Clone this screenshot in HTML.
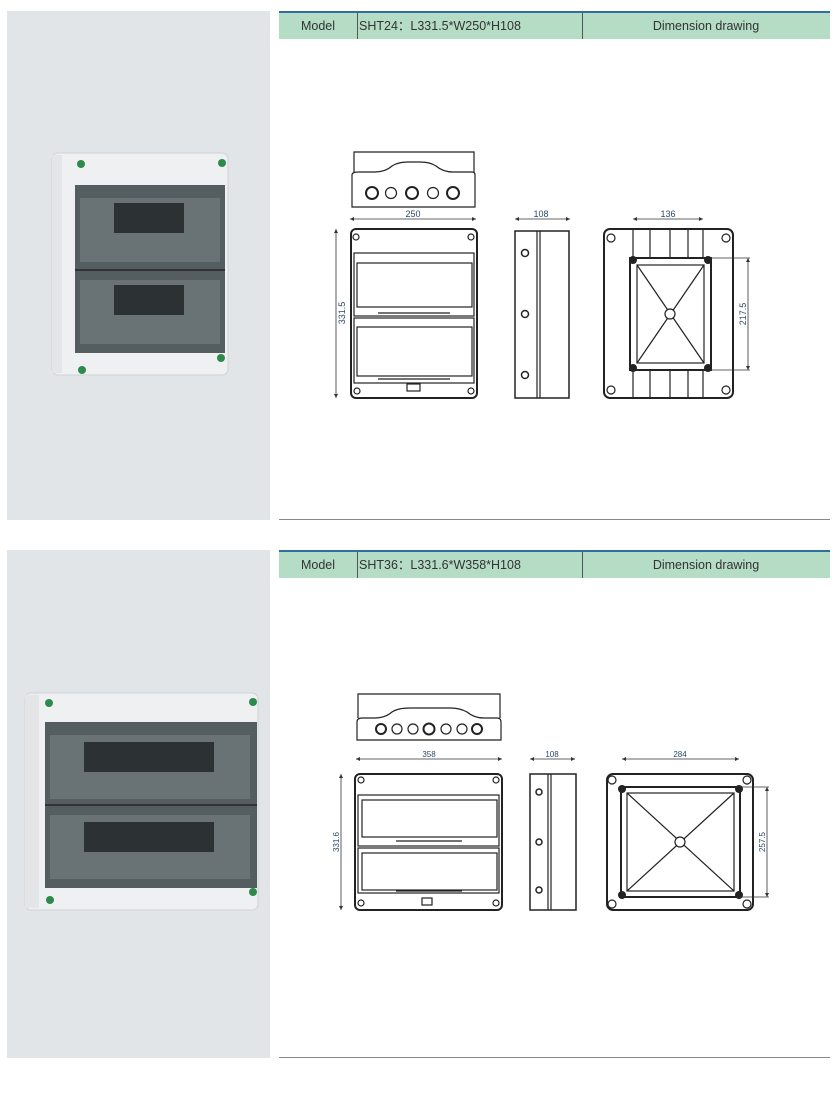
<!DOCTYPE html>
<html><head><meta charset="utf-8"><style>
html,body{margin:0;padding:0;background:#fff;}
svg{display:block;font-family:"Liberation Sans",sans-serif;}
</style></head><body>
<svg width="836" height="1097" viewBox="0 0 836 1097" xmlns="http://www.w3.org/2000/svg">
<defs>
<marker id="a" viewBox="0 0 6 6" refX="6" refY="3" markerWidth="5" markerHeight="5" orient="auto-start-reverse"><path d="M0,0 L6,3 L0,6 z" fill="#333"/></marker>
</defs>
<rect x="7" y="11" width="263" height="509" fill="#e2e5e7"/>
<rect x="7" y="550" width="263" height="508" fill="#e2e5e7"/>

<g>
<rect x="279" y="11" width="551" height="2" fill="#2f6e9e"/>
<rect x="279" y="13" width="551" height="26" fill="#b5dcc4"/>
<line x1="357.5" y1="13" x2="357.5" y2="39" stroke="#555"/>
<line x1="582.5" y1="13" x2="582.5" y2="39" stroke="#555"/>
<text x="318" y="30" font-size="12.5" text-anchor="middle" fill="#333">Model</text>
<text x="359" y="30" font-size="12.5" fill="#333">SHT24：L331.5*W250*H108</text>
<text x="706" y="30" font-size="12.5" text-anchor="middle" fill="#333">Dimension drawing</text>
<line x1="279" y1="519.5" x2="830" y2="519.5" stroke="#888"/>
</g>
<g>
<rect x="279" y="550" width="551" height="2" fill="#2f6e9e"/>
<rect x="279" y="552" width="551" height="26" fill="#b5dcc4"/>
<line x1="357.5" y1="552" x2="357.5" y2="578" stroke="#555"/>
<line x1="582.5" y1="552" x2="582.5" y2="578" stroke="#555"/>
<text x="318" y="569" font-size="12.5" text-anchor="middle" fill="#333">Model</text>
<text x="359" y="569" font-size="12.5" fill="#333">SHT36：L331.6*W358*H108</text>
<text x="706" y="569" font-size="12.5" text-anchor="middle" fill="#333">Dimension drawing</text>
<line x1="279" y1="1057.5" x2="830" y2="1057.5" stroke="#888"/>
</g>

<!-- photo 1 -->
<g>
<rect x="52" y="153" width="176" height="222" rx="6" fill="#eef0f1" stroke="#cfd3d6"/>
<rect x="52" y="155" width="10" height="218" fill="#e3e5e7"/>
<rect x="75" y="185" width="150" height="168" fill="#545d60"/>
<rect x="80" y="198" width="140" height="64" fill="#697376"/>
<rect x="114" y="203" width="70" height="30" fill="#2c3234"/>
<rect x="80" y="280" width="140" height="64" fill="#697376"/>
<rect x="114" y="285" width="70" height="30" fill="#2c3234"/>
<line x1="75" y1="270" x2="225" y2="270" stroke="#333" stroke-width="2"/>
<circle cx="81" cy="164" r="4" fill="#2e8a4a"/><circle cx="222" cy="163" r="4" fill="#2e8a4a"/>
<circle cx="82" cy="370" r="4" fill="#2e8a4a"/><circle cx="221" cy="358" r="4" fill="#2e8a4a"/>
</g>
<!-- photo 2 -->
<g>
<rect x="25" y="693" width="233" height="217" rx="6" fill="#eef0f1" stroke="#cfd3d6"/>
<rect x="25" y="695" width="14" height="213" fill="#e3e5e7"/>
<rect x="45" y="722" width="212" height="166" fill="#545d60"/>
<rect x="50" y="735" width="200" height="64" fill="#697376"/>
<rect x="84" y="742" width="130" height="30" fill="#2c3234"/>
<rect x="50" y="815" width="200" height="64" fill="#697376"/>
<rect x="84" y="822" width="130" height="30" fill="#2c3234"/>
<line x1="45" y1="805" x2="257" y2="805" stroke="#333" stroke-width="2"/>
<circle cx="49" cy="703" r="4" fill="#2e8a4a"/><circle cx="253" cy="702" r="4" fill="#2e8a4a"/>
<circle cx="50" cy="900" r="4" fill="#2e8a4a"/><circle cx="253" cy="892" r="4" fill="#2e8a4a"/>
</g>

<g fill="none" stroke="#222" stroke-width="1.2">
<path d="M352,207 V175 Q352,172 358,172 H375 Q385,172 392,166 Q398,162 408,162 H420 Q430,162 436,166 Q443,172 453,172 H472 Q475,172 475,175 V207 Z"/>
<path d="M354,172 V152 H474 V172"/>
<circle cx="372" cy="193" r="6" stroke-width="2"/><circle cx="391" cy="193" r="5.5"/><circle cx="412" cy="193" r="6" stroke-width="2"/><circle cx="433" cy="193" r="5.5"/><circle cx="453" cy="193" r="6" stroke-width="2"/>
<rect x="351" y="229" width="126" height="169" rx="5" stroke-width="2"/>
<rect x="354" y="253" width="120" height="63"/><rect x="357" y="263" width="115" height="44"/>
<rect x="354" y="318" width="120" height="65"/><rect x="357" y="327" width="115" height="49"/>
<line x1="378" y1="313" x2="450" y2="313"/><line x1="378" y1="379" x2="450" y2="379"/>
<rect x="407" y="384" width="13" height="7"/>
<circle cx="356" cy="237" r="3"/><circle cx="471" cy="237" r="3"/><circle cx="357" cy="391" r="3"/><circle cx="471" cy="391" r="3"/>
<rect x="515" y="231" width="54" height="167" stroke-width="1.5"/>
<line x1="537" y1="231" x2="537" y2="398"/><line x1="540" y1="231" x2="540" y2="398"/>
<circle cx="525" cy="253" r="3.5" stroke-width="1.5"/><circle cx="525" cy="314" r="3.5" stroke-width="1.5"/><circle cx="525" cy="375" r="3.5" stroke-width="1.5"/>
<rect x="604" y="229" width="129" height="169" rx="6" stroke-width="2"/>
<rect x="630" y="258" width="81" height="112" stroke-width="2"/><rect x="637" y="265" width="67" height="98"/>
<line x1="637" y1="265" x2="704" y2="363"/><line x1="704" y1="265" x2="637" y2="363"/>
<circle cx="670" cy="314" r="5" fill="#fff"/>
<line x1="633" y1="229" x2="633" y2="258"/><line x1="650" y1="229" x2="650" y2="258"/><line x1="670" y1="229" x2="670" y2="258"/><line x1="688" y1="229" x2="688" y2="258"/><line x1="703" y1="229" x2="703" y2="258"/>
<line x1="633" y1="370" x2="633" y2="398"/><line x1="650" y1="370" x2="650" y2="398"/><line x1="670" y1="370" x2="670" y2="398"/><line x1="688" y1="370" x2="688" y2="398"/><line x1="703" y1="370" x2="703" y2="398"/>
<circle cx="611" cy="238" r="4"/><circle cx="726" cy="238" r="4"/><circle cx="611" cy="390" r="4"/><circle cx="726" cy="390" r="4"/>
</g>
<g fill="#222"><circle cx="633" cy="260" r="4"/><circle cx="708" cy="260" r="4"/><circle cx="633" cy="368" r="4"/><circle cx="708" cy="368" r="4"/></g>
<g stroke="#333" stroke-width="0.8" fill="none">
<line x1="350" y1="219" x2="476" y2="219" marker-start="url(#a)" marker-end="url(#a)"/>
<line x1="336" y1="229" x2="336" y2="398" marker-start="url(#a)" marker-end="url(#a)"/>
<line x1="515" y1="219" x2="570" y2="219" marker-start="url(#a)" marker-end="url(#a)"/>
<line x1="633" y1="219" x2="703" y2="219" marker-start="url(#a)" marker-end="url(#a)"/>
<line x1="748" y1="258" x2="748" y2="370" marker-start="url(#a)" marker-end="url(#a)"/>
<line x1="710" y1="258" x2="750" y2="258"/><line x1="710" y1="370" x2="750" y2="370"/>
</g>
<g font-size="9" fill="#2a4a6a" text-anchor="middle">
<text x="413" y="217">250</text><text x="541" y="217">108</text><text x="668" y="217">136</text>
<text transform="translate(345,313) rotate(-90)">331.5</text>
<text transform="translate(746,314) rotate(-90)">217.5</text>
</g>

<g fill="none" stroke="#222" stroke-width="1.2">
<path d="M357,740 V722 Q357,718 362,718 H375 Q385,718 392,712 Q398,708 410,708 H450 Q460,708 467,712 Q474,718 484,718 H497 Q501,718 501,722 V740 Z"/>
<path d="M358,718 V694 H500 V718"/>
<circle cx="381" cy="729" r="5" stroke-width="2"/><circle cx="397" cy="729" r="5"/><circle cx="413" cy="729" r="5"/><circle cx="429" cy="729" r="5.5" stroke-width="2"/><circle cx="446" cy="729" r="5"/><circle cx="462" cy="729" r="5"/><circle cx="477" cy="729" r="5" stroke-width="2"/>
<rect x="355" y="774" width="147" height="136" rx="5" stroke-width="2"/>
<rect x="358" y="795" width="141" height="51"/><rect x="362" y="800" width="135" height="37"/>
<rect x="358" y="848" width="141" height="45"/><rect x="362" y="853" width="135" height="37"/>
<line x1="396" y1="841" x2="462" y2="841"/><line x1="396" y1="891" x2="462" y2="891"/>
<rect x="422" y="898" width="10" height="7"/>
<circle cx="361" cy="780" r="3"/><circle cx="496" cy="780" r="3"/><circle cx="361" cy="903" r="3"/><circle cx="496" cy="903" r="3"/>
<rect x="530" y="774" width="46" height="136" stroke-width="1.5"/>
<line x1="548" y1="774" x2="548" y2="910"/><line x1="551" y1="774" x2="551" y2="910"/>
<circle cx="539" cy="792" r="3" stroke-width="1.5"/><circle cx="539" cy="842" r="3" stroke-width="1.5"/><circle cx="539" cy="890" r="3" stroke-width="1.5"/>
<rect x="607" y="774" width="146" height="136" rx="6" stroke-width="2"/>
<rect x="621" y="787" width="119" height="110" stroke-width="2"/><rect x="627" y="793" width="107" height="98"/>
<line x1="627" y1="793" x2="734" y2="891"/><line x1="734" y1="793" x2="627" y2="891"/>
<circle cx="680" cy="842" r="5" fill="#fff"/>
<circle cx="612" cy="780" r="4"/><circle cx="747" cy="780" r="4"/><circle cx="612" cy="904" r="4"/><circle cx="747" cy="904" r="4"/>
</g>
<g fill="#222"><circle cx="622" cy="789" r="4"/><circle cx="739" cy="789" r="4"/><circle cx="622" cy="895" r="4"/><circle cx="739" cy="895" r="4"/></g>
<g stroke="#333" stroke-width="0.8" fill="none">
<line x1="356" y1="759" x2="502" y2="759" marker-start="url(#a)" marker-end="url(#a)"/>
<line x1="341" y1="774" x2="341" y2="910" marker-start="url(#a)" marker-end="url(#a)"/>
<line x1="530" y1="759" x2="575" y2="759" marker-start="url(#a)" marker-end="url(#a)"/>
<line x1="622" y1="759" x2="739" y2="759" marker-start="url(#a)" marker-end="url(#a)"/>
<line x1="767" y1="787" x2="767" y2="897" marker-start="url(#a)" marker-end="url(#a)"/>
<line x1="740" y1="787" x2="769" y2="787"/><line x1="740" y1="897" x2="769" y2="897"/>
</g>
<g font-size="8" fill="#2a4a6a" text-anchor="middle">
<text x="429" y="757">358</text><text x="552" y="757">108</text><text x="680" y="757">284</text>
<text transform="translate(339,842) rotate(-90)">331.6</text>
<text transform="translate(765,842) rotate(-90)">257.5</text>
</g>
</svg>
</body></html>
